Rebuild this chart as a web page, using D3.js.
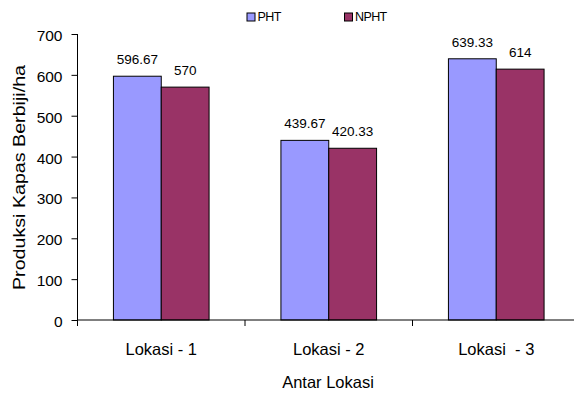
<!DOCTYPE html>
<html>
<head>
<meta charset="utf-8">
<script src="https://cdn.jsdelivr.net/npm/d3@7"></script>
<style>
  html, body { margin: 0; padding: 0; background: #fff; }
  svg { display: block; font-family: Arial, "Liberation Sans", sans-serif; }
  text { white-space: pre; }
</style>
</head>
<body>
<svg id="chart" width="574" height="393"></svg>
<script>
// Production of seed cotton (kg/ha) per location, PHT vs NPHT
const categories = ["Lokasi - 1", "Lokasi - 2", "Lokasi  - 3"];
const series = ["PHT", "NPHT"];
const phtValues = [596.67, 439.67, 639.33];
const nphtValues = [570, 420.33, 614];
const valueLabels = [["596.67", "570"], ["439.67", "420.33"], ["639.33", "614"]];
const yTicks = [0, 100, 200, 300, 400, 500, 600, 700];
const colors = { PHT: "#9999FF", NPHT: "#993366" };

const svg = d3.select("#chart");

const x = d3.scaleBand().domain(categories).range([77.5, 580]).padding(0);
const groupFrac = 0.571;
const x1 = d3.scaleBand().domain(series).range([0, x.bandwidth() * groupFrac]).padding(0);
const groupOffset = (x.bandwidth() * (1 - groupFrac)) / 2;
const y = d3.scaleLinear().domain([0, 700]).range([320, 34]);

const rows = categories.map((c, i) => ({
  cat: c,
  vals: [
    { key: "PHT", value: phtValues[i], label: valueLabels[i][0] },
    { key: "NPHT", value: nphtValues[i], label: valueLabels[i][1] }
  ]
}));

// Bars
const groups = svg.append("g").selectAll("g").data(rows).join("g")
  .attr("transform", d => `translate(${x(d.cat) + groupOffset},0)`);

groups.selectAll("rect").data(d => d.vals).join("rect")
  .attr("x", d => x1(d.key))
  .attr("y", d => y(d.value))
  .attr("width", x1.bandwidth())
  .attr("height", d => y(0) - y(d.value))
  .attr("fill", d => colors[d.key])
  .attr("stroke", "#000")
  .attr("stroke-width", 1);

// Value labels above bars
groups.selectAll("text").data(d => d.vals).join("text")
  .attr("x", d => x1(d.key) + x1.bandwidth() / 2)
  .attr("y", d => y(d.value) - 12)
  .attr("text-anchor", "middle")
  .attr("font-size", "13.5px")
  .attr("fill", "#000")
  .text(d => d.label);

// Y axis
const yAxis = svg.append("g")
  .attr("transform", "translate(77.5,0)")
  .call(d3.axisLeft(y).tickValues(yTicks).tickSize(6).tickPadding(9).tickFormat(d3.format("d")));
yAxis.select(".domain").attr("stroke", "#000").attr("d", `M0,${y(700)}V${y(0)}`);
yAxis.selectAll(".tick line").attr("stroke", "#000");
yAxis.selectAll(".tick text").attr("font-size", "15.5px").attr("fill", "#000")
  .attr("font-family", "Arial, 'Liberation Sans', sans-serif").attr("dy", "0.42em");

// X axis line and category boundary ticks
const xAxisG = svg.append("g");
xAxisG.append("line")
  .attr("x1", x.range()[0]).attr("x2", x.range()[1])
  .attr("y1", y(0)).attr("y2", y(0))
  .attr("stroke", "#000");
xAxisG.selectAll("line.bound").data(categories).join("line")
  .attr("class", "bound")
  .attr("x1", d => x(d)).attr("x2", d => x(d))
  .attr("y1", y(0)).attr("y2", y(0) + 6)
  .attr("stroke", "#000");
xAxisG.selectAll("text").data(categories).join("text")
  .attr("x", d => x(d) + x.bandwidth() / 2)
  .attr("y", 355)
  .attr("text-anchor", "middle")
  .attr("font-size", "16.5px")
  .attr("fill", "#000")
  .text(d => d);

// Axis titles
svg.append("text")
  .attr("x", 328).attr("y", 388)
  .attr("text-anchor", "middle")
  .attr("font-size", "16.5px")
  .attr("fill", "#000")
  .text("Antar Lokasi");

svg.append("text")
  .attr("transform", "translate(25,177.5) rotate(-90)")
  .attr("text-anchor", "middle")
  .attr("font-size", "17px")
  .attr("textLength", 225)
  .attr("lengthAdjust", "spacingAndGlyphs")
  .attr("fill", "#000")
  .text("Produksi Kapas Berbiji/ha");

// Legend
const legendPos = { PHT: 247, NPHT: 344.5 };
const legend = svg.append("g").selectAll("g").data(series).join("g")
  .attr("transform", d => `translate(${legendPos[d]},13)`);
legend.append("rect")
  .attr("width", 8).attr("height", 8)
  .attr("fill", d => colors[d])
  .attr("stroke", "#000").attr("stroke-width", 1);
legend.append("text")
  .attr("x", 10.5).attr("y", 8.3)
  .attr("font-size", "12.5px")
  .attr("letter-spacing", "-0.6px")
  .attr("fill", "#000")
  .text(d => d);
</script>
</body>
</html>
